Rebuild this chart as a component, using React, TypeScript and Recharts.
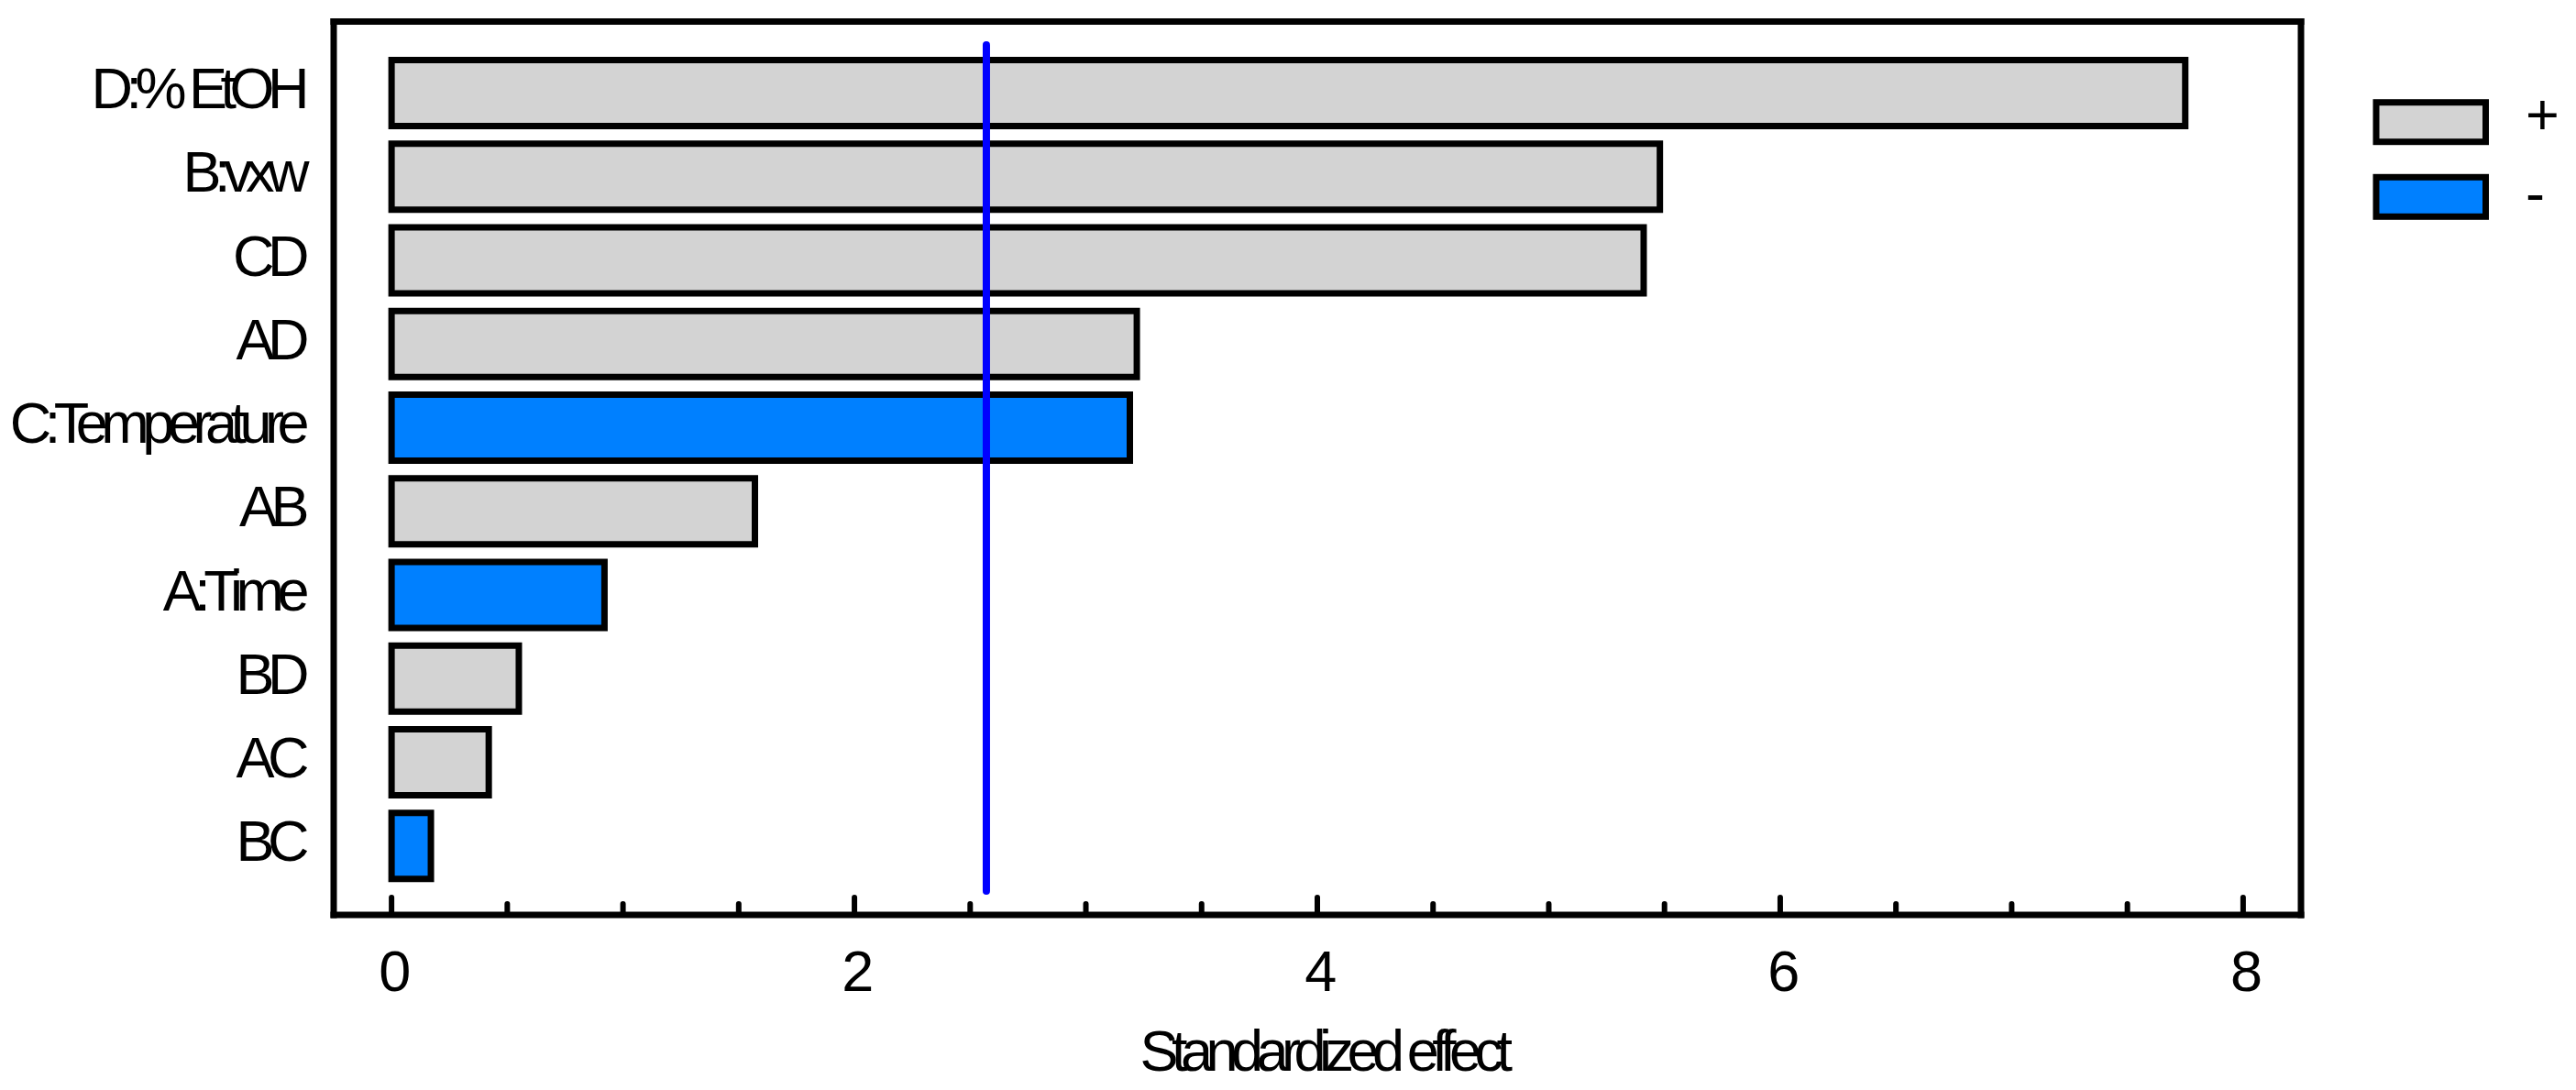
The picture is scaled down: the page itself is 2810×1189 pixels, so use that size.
import { Bar, BarChart, Cell, Legend, ReferenceLine, XAxis, YAxis } from "recharts";

// Pareto chart of standardized effects
const terms = ["D:% EtOH", "B:vxw", "CD", "AD", "C:Temperature", "AB", "A:Time", "BD", "AC", "BC"];
const effects = [7.75, 5.48, 5.41, 3.22, 3.19, 1.57, 0.92, 0.55, 0.42, 0.17];
const signs = ["+", "+", "+", "+", "-", "+", "-", "+", "+", "-"];
const criticalValue = 2.57;
const xTicks = [0, 0.5, 1, 1.5, 2, 2.5, 3, 3.5, 4, 4.5, 5, 5.5, 6, 6.5, 7, 7.5, 8];
const xLabelTicks = [0, 2, 4, 6, 8];
const legendItems = ["+", "-"];

const signColor: Record<string, string> = { "+": "#D3D3D3", "-": "#0080FF" };

const data = terms.map((term, i) => ({ term, effect: effects[i], sign: signs[i] }));

const FONT = "'Liberation Sans', Arial, sans-serif";
const textStyle = { fontFamily: FONT, fontSize: 63, letterSpacing: -7.5, fill: "#000" };
const frame = { stroke: "#000", strokeWidth: 7, strokeLinecap: "square" as const };

function BottomTick({ x, y, payload }: any) {
  const major = xLabelTicks.includes(payload.value);
  return (
    <g>
      <line x1={x} x2={x} y1={y} y2={y - (major ? 19 : 12)} stroke="#000" strokeWidth={6} strokeLinecap="round" />
      {major && (
        <text x={x} y={y + 83} textAnchor="middle" style={textStyle}>
          {payload.value}
        </text>
      )}
    </g>
  );
}

function TopTick({ x, y, payload }: any) {
  const major = xLabelTicks.includes(payload.value);
  return <line x1={x} x2={x} y1={y} y2={y + (major ? 18.5 : 12.5)} stroke="#000" strokeWidth={6} strokeLinecap="round" />;
}

function TermTick({ x, y, payload }: any) {
  return (
    <text x={x} y={y + 17} textAnchor="end" style={textStyle}>
      {payload.value}
    </text>
  );
}

function AxisTitle({ viewBox }: any) {
  return (
    <text x={viewBox.x + viewBox.width / 2 + 6} y={viewBox.y + 170} textAnchor="middle" style={textStyle}>
      Standardized effect
    </text>
  );
}

function SignLegend() {
  return (
    <svg width={210} height={160} style={{ overflow: "visible" }}>
      {legendItems.map((s, i) => (
        <g key={s}>
          <rect x={14} y={13.7 + i * 81.6} width={119.5} height={43} fill={signColor[s]} stroke="#000" strokeWidth={7} />
          <text x={177} y={49 + i * 84.5} style={{ ...textStyle, letterSpacing: 0 }}>
            {s}
          </text>
        </g>
      ))}
    </svg>
  );
}

export default function App() {
  return (
    <BarChart
      width={2794}
      height={1173}
      data={data}
      layout="vertical"
      margin={{ top: 14.5, right: 291, bottom: 0, left: 0 }}
      barSize={72}
    >
      <XAxis
        xAxisId="b"
        type="number"
        domain={[-0.25, 8.25]}
        ticks={xTicks}
        interval={0}
        height={183}
        tickSize={0}
        tickMargin={0}
        tickLine={false}
        axisLine={frame}
        tick={<BottomTick />}
        label={<AxisTitle />}
      />
      <XAxis
        xAxisId="t"
        orientation="top"
        type="number"
        domain={[-0.25, 8.25]}
        ticks={xTicks}
        interval={0}
        height={1}
        tickSize={0}
        tickMargin={0}
        tickLine={false}
        axisLine={frame}
        tick={<TopTick />}
      />
      <YAxis
        yAxisId="l"
        type="category"
        dataKey="term"
        width={356}
        interval={0}
        padding={{ top: 32, bottom: 30 }}
        tickSize={0}
        tickMargin={34}
        tickLine={false}
        axisLine={frame}
        tick={<TermTick />}
      />
      <YAxis
        yAxisId="r"
        orientation="right"
        type="category"
        dataKey="term"
        width={1}
        padding={{ top: 32, bottom: 30 }}
        tick={false}
        tickLine={false}
        axisLine={frame}
      />
      <Legend
        layout="vertical"
        align="center"
        verticalAlign="middle"
        wrapperStyle={{ left: 2570, top: 90, width: 210, height: 160 }}
        content={() => <SignLegend />}
      />
      <Bar xAxisId="b" yAxisId="l" dataKey="effect" stroke="#000" strokeWidth={7} isAnimationActive={false}>
        {data.map((d) => (
          <Cell key={d.term} fill={signColor[d.sign]} />
        ))}
      </Bar>
      <ReferenceLine
        xAxisId="b"
        yAxisId="l"
        x={criticalValue}
        shape={(p: any) => {
          const top = Math.min(p.y1, p.y2) + 25.5;
          const bottom = Math.max(p.y1, p.y2) - 26;
          return <line x1={p.x1} x2={p.x2} y1={top} y2={bottom} stroke="#0000FF" strokeWidth={8} strokeLinecap="round" />;
        }}
      />
    </BarChart>
  );
}
